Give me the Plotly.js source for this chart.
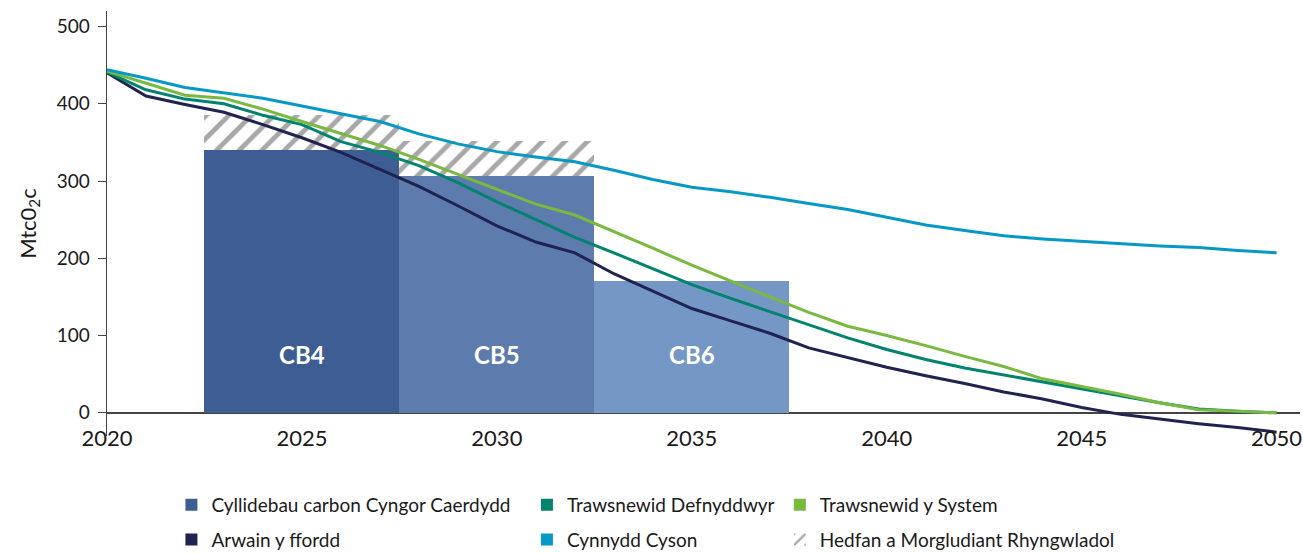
<!DOCTYPE html>
<html>
<head>
<meta charset="utf-8">
<script src="https://cdn.plot.ly/plotly-3.0.1.min.js"></script>
<style>
  html, body { margin: 0; padding: 0; background: #fff; }
  #chart { width: 1303px; height: 554px; }
</style>
</head>
<body>
<div id="chart"></div>
<script>
const years = [2020, 2021, 2022, 2023, 2024, 2025, 2026, 2027, 2028, 2029, 2030,
  2031, 2032, 2033, 2034, 2035, 2036, 2037, 2038, 2039, 2040,
  2041, 2042, 2043, 2044, 2045, 2046, 2047, 2048, 2049, 2050];

// Mtc02c per year
const arwain = [440, 410, 399, 389, 373, 356, 337, 315, 293, 268, 242,
  221, 207, 180, 157, 135, 119, 103, 84, 71, 59,
  48, 38, 27, 18, 7, -2, -8, -14, -19, -25];
const defnyddwyr = [441, 418, 406, 400, 385, 373, 351, 337, 320, 298, 273,
  250, 227, 207, 186, 166, 148, 131, 115, 97, 82,
  69, 58, 49, 40, 31, 22, 13, 5, 2, 0];
const system = [442, 426, 411, 407, 393, 377, 362, 346, 328, 309, 289,
  270, 256, 235, 213, 191, 170, 150, 130, 112, 100,
  87, 73, 60, 44, 34, 24, 13, 4, 2, 0];
const cyson = [444, 433, 421, 414, 407, 397, 387, 377, 361, 348, 338,
  331, 325, 314, 302, 292, 286, 279, 271, 263, 253,
  243, 236, 229, 225, 222, 219, 216, 214, 210, 207];

// carbon budgets (5 year periods centred on these years)
const budgetYears = [2025, 2030, 2035];
const budgetLabels = ["CB4", "CB5", "CB6"];
const budgetValues = [340, 307, 170];
const aviationValues = [45, 45, null];

const FONT = "Lato, 'Open Sans', sans-serif";
const budgetColours = ["#3e5e93", "#5e7bae", "#7597c5"];

const lines = [
  { name: "Arwain y ffordd", y: arwain, color: "#1f2350", legend: "legend", rank: 2 },
  { name: "Trawsnewid Defnyddwyr", y: defnyddwyr, color: "#00836f", legend: "legend2", rank: 1 },
  { name: "Trawsnewid y System", y: system, color: "#7ab940", legend: "legend3", rank: 1 },
  { name: "Cynnydd Cyson", y: cyson, color: "#0699c5", legend: "legend2", rank: 2 },
];

const data = [
  {
    type: "bar",
    x: budgetYears,
    y: budgetValues,
    width: 5,
    name: "Cyllidebau carbon Cyngor Caerdydd",
    legend: "legend",
    legendgroup: "budget",
    legendrank: 1,
    marker: { color: budgetColours, line: { width: 0 } },
  },
  {
    type: "bar",
    x: budgetYears,
    y: aviationValues,
    width: 5,
    name: "Hedfan a Morgludiant Rhyngwladol",
    legend: "legend3",
    legendgroup: "aviation",
    legendrank: 2,
    marker: {
      color: "rgba(0,0,0,0)",
      line: { width: 0 },
      pattern: { shape: "/", fgcolor: "#a8a8a8", bgcolor: "rgba(0,0,0,0)", size: 16, solidity: 0.3 },
    },
  },
];

lines.forEach((l) => {
  data.push({
    type: "scatter",
    mode: "lines",
    x: years,
    y: l.y,
    name: l.name,
    legendgroup: l.name,
    showlegend: false,
    line: { color: l.color, width: 3 },
  });
  // square legend key, like the original
  data.push({
    type: "bar",
    x: [null],
    y: [null],
    name: l.name,
    legend: l.legend,
    legendgroup: l.name,
    legendrank: l.rank,
    marker: { color: l.color, line: { width: 0 } },
  });
});

const legendBase = {
  orientation: "v",
  xref: "paper",
  yref: "container",
  yanchor: "top",
  xanchor: "left",
  y: 0.123,
  tracegroupgap: 7,
  bgcolor: "rgba(0,0,0,0)",
  font: { family: FONT, size: 19, color: "#1a1a1a" },
};

const layout = {
  width: 1303,
  height: 554,
  margin: { l: 107, r: 3, t: 11, b: 118 },
  paper_bgcolor: "#fff",
  plot_bgcolor: "#fff",
  barmode: "stack",
  showlegend: true,
  font: { family: FONT, color: "#1a1a1a" },
  xaxis: {
    range: [2020, 2050.6],
    tickmode: "linear",
    tick0: 2020,
    dtick: 5,
    showgrid: false,
    zeroline: false,
    showline: false,
    ticks: "",
    ticklabeloverflow: "allow",
    ticklabelstandoff: -13,
    tickfont: { family: FONT, size: 22, color: "#1a1a1a" },
  },
  yaxis: {
    range: [-30, 520],
    tickmode: "linear",
    tick0: 0,
    dtick: 100,
    showgrid: false,
    zeroline: true,
    zerolinecolor: "#444",
    zerolinewidth: 1.5,
    showline: true,
    linecolor: "#444",
    linewidth: 1.5,
    ticks: "outside",
    ticklen: 8,
    tickcolor: "#444",
    ticklabelstandoff: 4,
    tickfont: { family: FONT, size: 19, color: "#1a1a1a" },
    title: { text: "Mtc0<sub>2</sub>c", standoff: 14, font: { family: FONT, size: 22, color: "#1a1a1a" } },
  },
  legend: Object.assign({}, legendBase, { x: 0.054 }),
  legend2: Object.assign({}, legendBase, { x: 0.352 }),
  legend3: Object.assign({}, legendBase, { x: 0.564 }),
  annotations: budgetLabels.map((label, i) => ({
    x: budgetYears[i],
    y: 75,
    text: "<b>" + label + "</b>",
    showarrow: false,
    font: { family: FONT, size: 24, color: "#ffffff" },
  })),
};

Plotly.newPlot("chart", data, layout, { displayModeBar: false, staticPlot: true });
</script>
</body>
</html>
